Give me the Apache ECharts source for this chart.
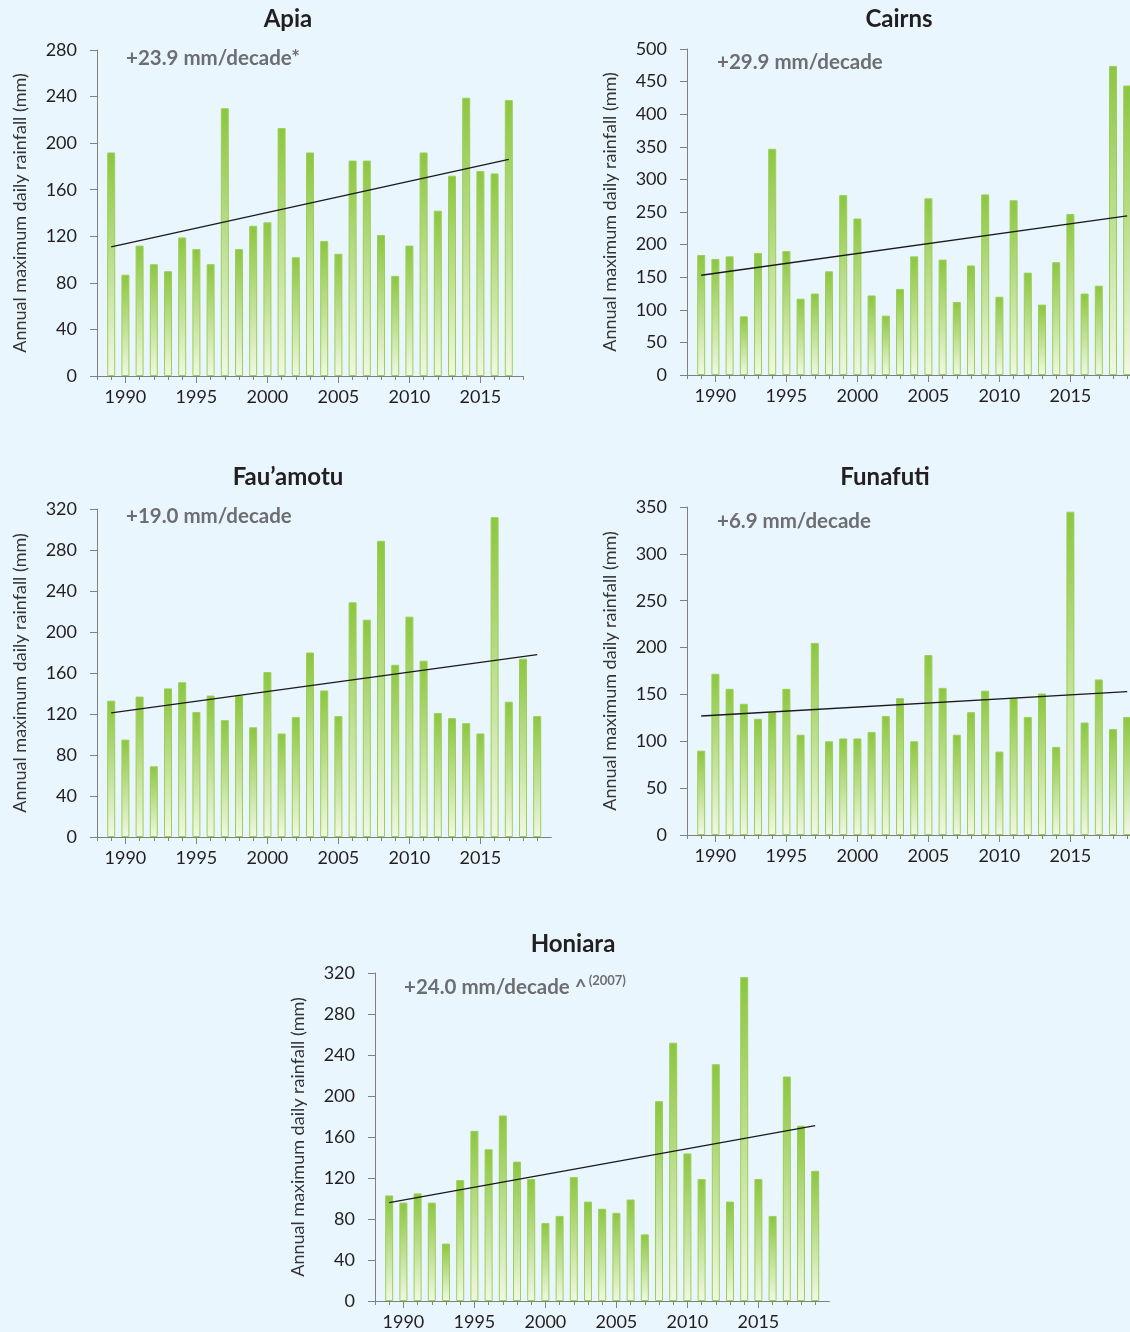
<!DOCTYPE html>
<html>
<head>
<meta charset="utf-8">
<script src="https://cdn.jsdelivr.net/npm/echarts@6/dist/echarts.min.js"></script>
<style>
  html, body { margin: 0; padding: 0; background: #eaf6fd; overflow: hidden; }
  #chart { width: 1160px; height: 1332px; }
</style>
</head>
<body>
<div id="chart"></div>
<script>
// Annual maximum daily rainfall (mm) with linear trend, five Pacific stations.

// Category axis years (tick positions), bars start at 1989.
const AXIS_YEARS = ['1988', '1989', '1990', '1991', '1992', '1993', '1994', '1995', '1996', '1997',
  '1998', '1999', '2000', '2001', '2002', '2003', '2004', '2005', '2006', '2007', '2008',
  '2009', '2010', '2011', '2012', '2013', '2014', '2015', '2016', '2017', '2018', '2019', '2020'];
const FIRST_YEAR = 1989;

// Bar values, 1989 onwards
const apia     = [192, 87, 112, 96, 90, 119, 109, 96, 230, 109, 129, 132, 213, 102, 192, 116, 105, 185, 185, 121, 86, 112, 192, 142, 172, 239, 176, 174, 237];
const cairns   = [184, 178, 182, 90, 187, 347, 190, 117, 125, 159, 276, 240, 122, 91, 132, 182, 271, 177, 112, 168, 277, 120, 268, 157, 108, 173, 247, 125, 137, 474, 444];
const fauamotu = [133, 95, 137, 69, 145, 151, 122, 138, 114, 138, 107, 161, 101, 117, 180, 143, 118, 229, 212, 289, 168, 215, 172, 121, 116, 111, 101, 312, 132, 174, 118];
const funafuti = [90, 172, 156, 140, 124, 131, 156, 107, 205, 100, 103, 103, 110, 127, 146, 100, 192, 157, 107, 131, 154, 89, 146, 126, 151, 94, 345, 120, 166, 113, 126];
const honiara  = [103, 96, 105, 96, 56, 118, 166, 148, 181, 136, 119, 76, 83, 121, 97, 90, 86, 99, 65, 195, 252, 144, 119, 231, 97, 316, 119, 83, 219, 171, 127];

// Trend line end points (first bar year, last bar year)
const apiaTrend     = [111, 186];
const cairnsTrend   = [153, 244];
const fauamotuTrend = [121, 178];
const funafutiTrend = [127, 153];
const honiaraTrend  = [96, 171];

const trendLabels = ['+23.9 mm/decade*', '+29.9 mm/decade', '+19.0 mm/decade', '+6.9 mm/decade', '+24.0 mm/decade ^'];
const honiaraNote = '(2007)';
const Y_NAME = 'Annual maximum daily rainfall (mm)';

const FONT = 'Lato, "Noto Sans", sans-serif';
const TEXT = '#231f20';
const GREY = '#6d6e71';
const AXIS = '#808080';

const panels = [
  { title: 'Apia',      data: apia,     trend: apiaTrend,     lastCat: '2018', left: 97,  top: 50,  height: 326, yMax: 280, yStep: 40, titleX: 288, titleY: 19,  noteX: 126, noteY: 57,  nameX: 20,  label: trendLabels[0] },
  { title: 'Cairns',    data: cairns,   trend: cairnsTrend,   lastCat: '2020', left: 687, top: 49,  height: 326, yMax: 500, yStep: 50, titleX: 899, titleY: 19,  noteX: 717, noteY: 61,  nameX: 610, label: trendLabels[1] },
  { title: 'Fau\u2019amotu', data: fauamotu, trend: fauamotuTrend, lastCat: '2020', left: 97,  top: 509, height: 328, yMax: 320, yStep: 40, titleX: 288, titleY: 477, noteX: 126, noteY: 515, nameX: 20,  label: trendLabels[2] },
  { title: 'Funafuti',  data: funafuti, trend: funafutiTrend, lastCat: '2020', left: 687, top: 507, height: 328, yMax: 350, yStep: 50, titleX: 885, titleY: 477, noteX: 717, noteY: 520, nameX: 610, label: trendLabels[3] },
  { title: 'Honiara',   data: honiara,  trend: honiaraTrend,  lastCat: '2020', left: 375, top: 973, height: 328, yMax: 320, yStep: 40, titleX: 573, titleY: 944, noteX: 404, noteY: 986, nameX: 298, label: trendLabels[4], note: honiaraNote }
];

const grid = [], xAxis = [], yAxis = [], series = [], graphic = [];
const PER_YEAR = 14.2;
const isMajor = (v) => Number(v) % 5 === 0 && Number(v) < 2020;

panels.forEach((p, i) => {
  const cats = AXIS_YEARS.slice(0, AXIS_YEARS.indexOf(p.lastCat) + 1);
  const nCat = cats.length;
  grid.push({ left: p.left, top: p.top, width: (nCat - 1) * PER_YEAR, height: p.height, containLabel: false });

  // minor ticks + axis line
  xAxis.push({
    type: 'category', gridIndex: i, data: cats, boundaryGap: false, position: 'bottom',
    axisLine: { lineStyle: { color: AXIS, width: 1 } },
    axisTick: { length: 4, lineStyle: { color: AXIS }, interval: (idx) => p.lastCat === '2018' || idx < nCat - 1 },
    axisLabel: { show: false },
    splitLine: { show: false }
  });
  // major ticks + labels every 5 years
  xAxis.push({
    type: 'category', gridIndex: i, data: cats, boundaryGap: false, position: 'bottom',
    axisLine: { show: false },
    axisTick: { length: 7, lineStyle: { color: AXIS }, interval: (idx, v) => isMajor(v) },
    axisLabel: {
      interval: (idx, v) => isMajor(v),
      margin: 12, fontSize: 18, fontFamily: FONT, color: TEXT
    },
    splitLine: { show: false }
  });
  yAxis.push({
    type: 'value', gridIndex: i, min: 0, max: p.yMax, interval: p.yStep,
    axisLine: { show: true, lineStyle: { color: AXIS, width: 1 } },
    axisTick: { show: true, length: 7, lineStyle: { color: AXIS } },
    axisLabel: { margin: 20, fontSize: 18, fontFamily: FONT, color: TEXT },
    splitLine: { show: false }
  });

  const lastBarYear = String(FIRST_YEAR + p.data.length - 1);
  series.push({
    type: 'bar', xAxisIndex: i * 2, yAxisIndex: i,
    barWidth: 8,
    data: p.data.map((v, k) => [String(FIRST_YEAR + k), v]),
    itemStyle: {
      color: new echarts.graphic.LinearGradient(0, 0, 0, 1, [
        { offset: 0, color: '#8cc63f' },
        { offset: 1, color: '#f1f8e3' }
      ]),
      borderColor: '#9ccf5a',
      borderWidth: 1
    },
    emphasis: { disabled: true },
    z: 2
  });
  series.push({
    type: 'line', xAxisIndex: i * 2, yAxisIndex: i,
    data: [[String(FIRST_YEAR), p.trend[0]], [lastBarYear, p.trend[1]]],
    symbol: 'none',
    lineStyle: { color: '#1a1a1a', width: 1.3 },
    emphasis: { disabled: true },
    z: 5
  });

  graphic.push({
    type: 'text', x: p.titleX, y: p.titleY,
    style: { text: p.title, fill: TEXT, font: 'bold 24px ' + FONT, align: 'center', verticalAlign: 'middle' }
  });
  graphic.push({
    type: 'text', x: p.noteX, y: p.noteY,
    style: {
      text: '{m|' + p.label + '}' + (p.note ? '{s|' + p.note + '}' : ''),
      align: 'left', verticalAlign: 'middle',
      rich: {
        m: { fill: GREY, font: 'bold 20.5px ' + FONT, lineHeight: 24, verticalAlign: 'bottom' },
        s: { fill: GREY, font: 'bold 13px ' + FONT, lineHeight: 24, verticalAlign: 'top', padding: [0, 0, 0, 2] }
      }
    }
  });
  graphic.push({
    type: 'text', x: p.nameX, y: p.top + p.height / 2, rotation: Math.PI / 2,
    style: { text: Y_NAME, fill: '#333333', font: '18px ' + FONT, align: 'center', verticalAlign: 'middle' }
  });
});

const chart = echarts.init(document.getElementById('chart'), null, { renderer: 'canvas' });
chart.setOption({
  animation: false,
  backgroundColor: '#eaf6fd',
  grid, xAxis, yAxis, series, graphic
});
</script>
</body>
</html>
